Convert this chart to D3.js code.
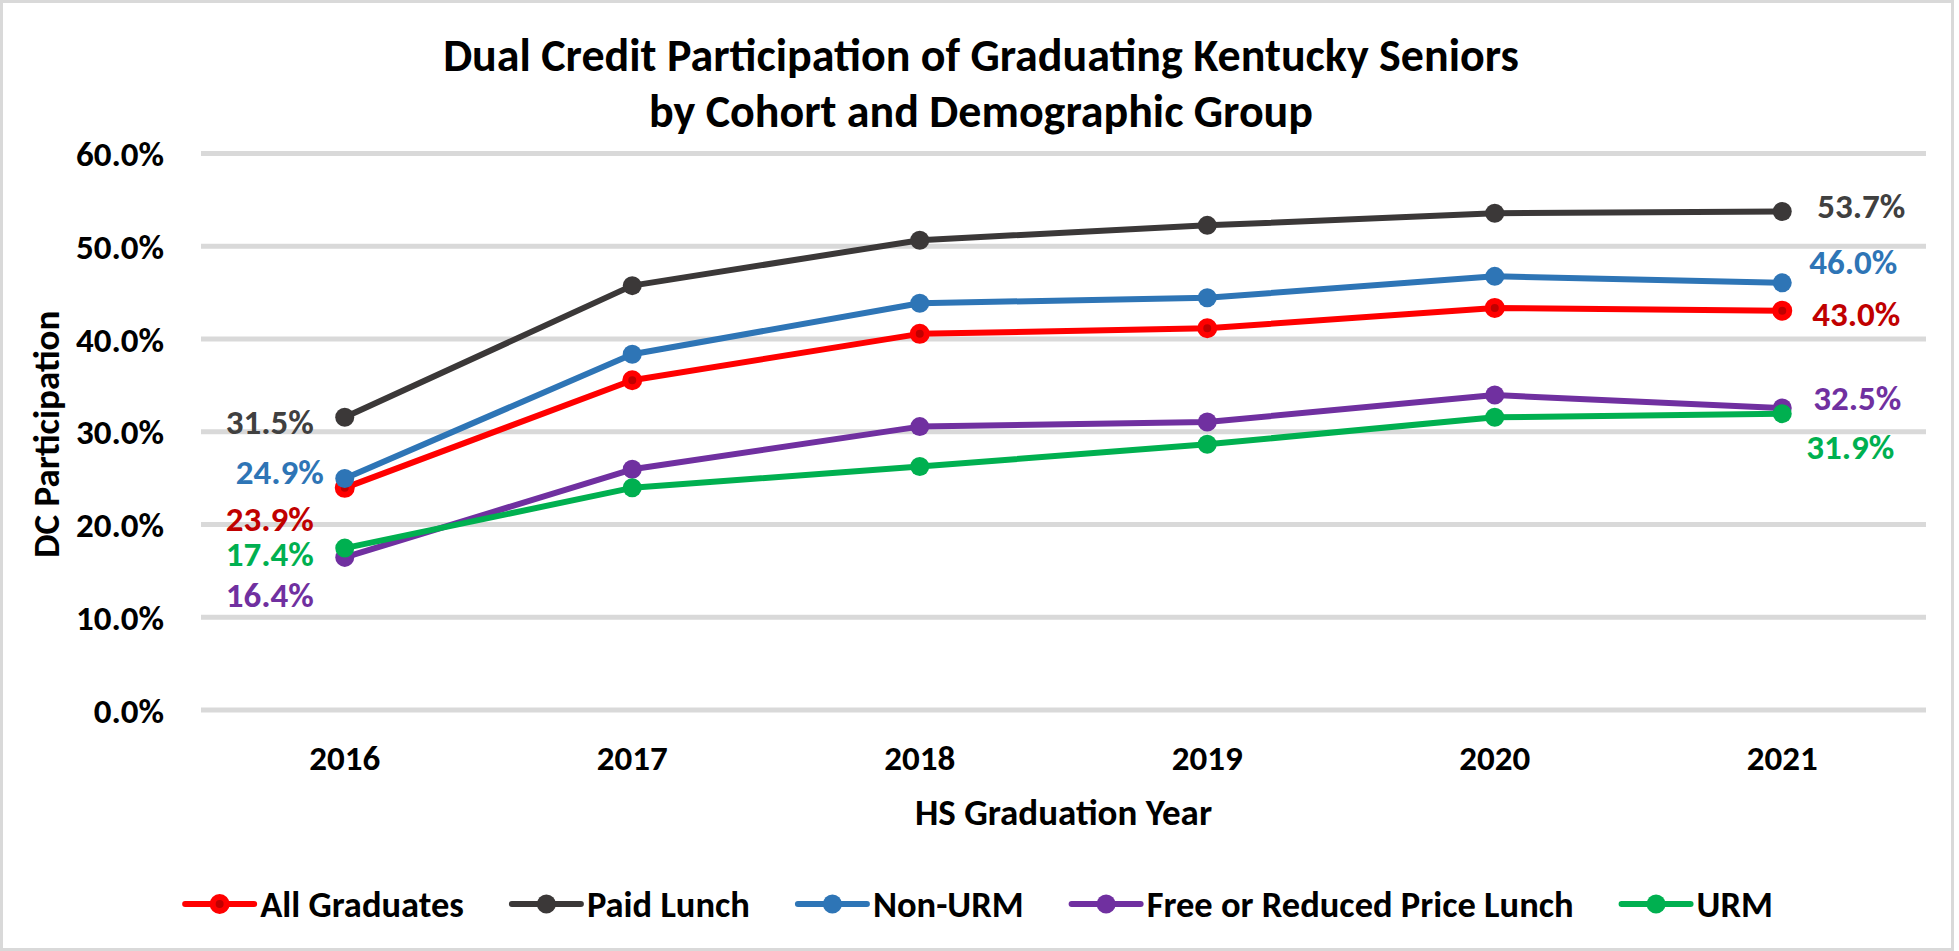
<!DOCTYPE html>
<html>
<head>
<meta charset="utf-8">
<script src="https://cdn.jsdelivr.net/npm/d3@7"></script>
<style>
  html, body { margin: 0; padding: 0; background: #ffffff; }
  svg { display: block; font-family: Calibri, Carlito, Lato, sans-serif; font-weight: 700; }
</style>
</head>
<body>
<svg id="chart" width="1959" height="951"></svg>
<script>
// Graduation cohorts (x categories)
const years = ["2016", "2017", "2018", "2019", "2020", "2021"];

// Dual credit participation rates by group
const allGraduates = [0.239, 0.355, 0.405, 0.411, 0.433, 0.430];
const paidLunch    = [0.315, 0.457, 0.506, 0.522, 0.535, 0.537];
const nonURM       = [0.249, 0.383, 0.438, 0.444, 0.467, 0.460];
const freeReduced  = [0.164, 0.259, 0.305, 0.310, 0.339, 0.325];
const urm          = [0.174, 0.239, 0.262, 0.286, 0.315, 0.319];

// Y axis ticks
const yTicks = [0, 0.1, 0.2, 0.3, 0.4, 0.5, 0.6];

const seriesNames = ["All Graduates", "Paid Lunch", "Non-URM", "Free or Reduced Price Lunch", "URM"];
const seriesValues = [allGraduates, paidLunch, nonURM, freeReduced, urm];

// Styling per series: line colour, label colour, marker fill
const styles = [
  { line: "#ff0000", label: "#c00000", fill: "#c00000", ring: true },
  { line: "#3b3838", label: "#404040", fill: "#3b3838" },
  { line: "#2e75b6", label: "#2e75b6", fill: "#2e75b6" },
  { line: "#7030a0", label: "#7030a0", fill: "#7030a0" },
  { line: "#00b050", label: "#00b050", fill: "#00b050" }
];

// Nudges for end-point value labels: [first point], [last point] as [dx, dy]
const labelNudge = [
  { first: [-31, 31], last: [30, 3] },
  { first: [-31, 4],  last: [35, -6] },
  { first: [-21, -7], last: [27, -21] },
  { first: [-31, 37], last: [31, -11] },
  { first: [-31, 5],  last: [24, 33] }
];

const series = seriesNames.map((name, i) => ({
  name,
  values: years.map((yr, j) => ({ year: yr, value: seriesValues[i][j] })),
  style: styles[i],
  nudge: labelNudge[i]
}));

const svg = d3.select("#chart");
const W = 1959, H = 951;
const plot = { left: 201, right: 1926, top: 153, bottom: 709.5 };
const numSize = 35, wordSize = 37, legendSize = 36.5, titleSize = 46;

// Outer chart frame
svg.append("rect")
  .attr("x", 1.5).attr("y", 1.5)
  .attr("width", 1951).attr("height", H - 3)
  .attr("fill", "#ffffff")
  .attr("stroke", "#d9d9d9")
  .attr("stroke-width", 3);

const x = d3.scaleBand().domain(years).range([plot.left, plot.right]);
const y = d3.scaleLinear().domain([0, 0.6]).range([plot.bottom, plot.top]);
const cx = d => x(d) + x.bandwidth() / 2;

// Title
const title = svg.append("text")
  .attr("text-anchor", "middle")
  .attr("font-size", titleSize)
  .attr("fill", "#000000");
title.append("tspan").attr("x", 981).attr("y", 71)
  .text("Dual Credit Participation of Graduating Kentucky Seniors");
title.append("tspan").attr("x", 981).attr("y", 127)
  .text("by Cohort and Demographic Group");

// Y axis with gridlines
const yAxis = svg.append("g")
  .attr("transform", `translate(${plot.left},0)`)
  .call(d3.axisLeft(y)
    .tickValues(yTicks)
    .tickFormat(d3.format(".1%"))
    .tickSize(-(plot.right - plot.left))
    .tickPadding(37));
yAxis.select(".domain").remove();
yAxis.selectAll(".tick line")
  .attr("stroke", "#d9d9d9")
  .attr("stroke-width", 5);
yAxis.selectAll(".tick text")
  .attr("font-size", numSize)
  .attr("font-family", "Calibri, Carlito, Lato, sans-serif")
  .attr("font-weight", 700)
  .attr("fill", "#000000")
  .attr("dy", "0.36em");

// X axis labels
const xAxis = svg.append("g")
  .attr("transform", `translate(0,${plot.bottom})`)
  .call(d3.axisBottom(x).tickSize(0));
xAxis.select(".domain").remove();
xAxis.selectAll(".tick text")
  .attr("font-size", numSize)
  .attr("font-family", "Calibri, Carlito, Lato, sans-serif")
  .attr("font-weight", 700)
  .attr("fill", "#000000")
  .attr("y", 60)
  .attr("dy", 0);

// Axis titles
svg.append("text")
  .attr("x", (plot.left + plot.right) / 2)
  .attr("y", 825)
  .attr("text-anchor", "middle")
  .attr("font-size", wordSize)
  .text("HS Graduation Year");

svg.append("text")
  .attr("transform", `translate(59,${(plot.top + plot.bottom) / 2 + 3}) rotate(-90)`)
  .attr("text-anchor", "middle")
  .attr("font-size", wordSize)
  .text("DC Participation");

// Lines and markers
const line = d3.line().x(d => cx(d.year)).y(d => y(d.value));

function drawMarker(sel, st) {
  if (st.ring) {
    sel.attr("r", 7).attr("fill", st.fill).attr("stroke", st.line).attr("stroke-width", 6);
  } else {
    sel.attr("r", 9.5).attr("fill", st.fill).attr("stroke", "none");
  }
}

const gSeries = svg.append("g")
  .selectAll("g")
  .data(series)
  .join("g");

gSeries.append("path")
  .attr("d", d => line(d.values))
  .attr("fill", "none")
  .attr("stroke", d => d.style.line)
  .attr("stroke-width", 6)
  .attr("stroke-linejoin", "round");

gSeries.each(function(s) {
  d3.select(this).selectAll("circle")
    .data(s.values)
    .join("circle")
    .attr("cx", d => cx(d.year))
    .attr("cy", d => y(d.value))
    .call(drawMarker, s.style);
});

// End-point value labels
const fmt = d3.format(".1%");
gSeries.each(function(s) {
  const g = d3.select(this);
  const first = s.values[0], last = s.values[s.values.length - 1];
  g.append("text")
    .attr("x", cx(first.year) + s.nudge.first[0])
    .attr("y", y(first.value) + s.nudge.first[1])
    .attr("dy", "0.36em")
    .attr("text-anchor", "end")
    .attr("font-size", numSize)
    .attr("fill", s.style.label)
    .text(fmt(first.value));
  g.append("text")
    .attr("x", cx(last.year) + s.nudge.last[0])
    .attr("y", y(last.value) + s.nudge.last[1])
    .attr("dy", "0.36em")
    .attr("text-anchor", "start")
    .attr("font-size", numSize)
    .attr("fill", s.style.label)
    .text(fmt(last.value));
});

// Legend
const legendY = 904;
const legend = svg.append("g");
const items = legend.selectAll("g")
  .data(series)
  .join("g");
items.append("line")
  .attr("x1", 0).attr("x2", 69)
  .attr("y1", 0).attr("y2", 0)
  .attr("stroke", d => d.style.line)
  .attr("stroke-width", 6)
  .attr("stroke-linecap", "round");
items.append("circle")
  .attr("cx", 34.5).attr("cy", 0)
  .each(function(d) { d3.select(this).call(drawMarker, d.style); });
items.append("text")
  .attr("x", 75)
  .attr("dy", "0.36em")
  .attr("font-size", legendSize)
  .attr("fill", "#000000")
  .text(d => d.name);

const widths = [];
items.each(function() {
  const w = 75 + d3.select(this).select("text").node().getComputedTextLength();
  widths.push(w);
});
const gap = 48;
const total = d3.sum(widths) + gap * (widths.length - 1);
let start = 979 - total / 2;
items.attr("transform", (d, i) => {
  const tx = start;
  start += widths[i] + gap;
  return `translate(${tx},${legendY})`;
});
</script>
</body>
</html>
